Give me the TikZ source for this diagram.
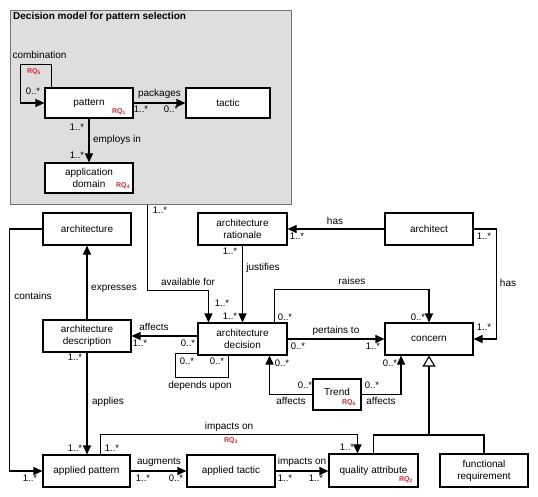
\documentclass[tikz,border=0pt]{standalone}
\usepackage{fontspec}
\setmainfont{Liberation Sans}
\usetikzlibrary{arrows.meta}
\definecolor{rqred}{RGB}{215,40,50}
\begin{document}
\begin{tikzpicture}[x=1pt,y=-1pt,
  box/.style={draw, line width=1.1pt, fill=white, inner sep=1pt, align=center,
    font=\fontsize{10}{12}\selectfont},
  conn/.style={line width=1.1pt},
  arr/.style={conn, -{Triangle[length=9pt,width=8pt]}},
  genarr/.style={conn, -{Triangle[open,fill=white,length=11pt,width=13pt]}},
  lbl/.style={font=\fontsize{10}{12}\selectfont, inner sep=0pt},
  mult/.style={font=\fontsize{9.5}{11}\selectfont, inner sep=0pt},
  rq/.style={font=\fontsize{7}{8}\selectfont\bfseries, text=rqred, inner sep=0pt},
]
\useasboundingbox (0,0) rectangle (538,496);

% decision model frame
\node[draw=black!55, fill=black!13, line width=1pt, minimum width=281pt, minimum height=194pt, inner sep=0pt] (dm) at (150.5,107) {};
\node[anchor=west, inner sep=0pt, font=\fontsize{10}{12}\selectfont\bfseries] (dmtitle) at (13,17) {Decision model for pattern selection};

% nodes
\node[box, minimum width=88pt, minimum height=30pt] (pattern) at (89,103) {pattern};
\node[box, minimum width=84pt, minimum height=30pt] (tactic) at (228,103) {tactic};
\node[box, minimum width=88pt, minimum height=30pt] (appdom) at (89,178) {application\\domain};
\node[box, minimum width=88pt, minimum height=32pt] (architecture) at (87,229) {architecture};
\node[box, minimum width=89pt, minimum height=32pt] (rationale) at (242.5,229) {architecture\\rationale};
\node[box, minimum width=88pt, minimum height=32pt] (architect) at (429,229) {architect};
\node[box, minimum width=88pt, minimum height=32pt] (description) at (87,336) {architecture\\description};
\node[box, minimum width=89pt, minimum height=32pt] (decision) at (242.5,339) {architecture\\decision};
\node[box, minimum width=88pt, minimum height=32pt] (concern) at (429,339) {concern};
\node[box, minimum width=48pt, minimum height=31pt] (trend) at (337,394.5) {};
\node[lbl] (trendtxt) at (337,392) {Trend};
\node[box, minimum width=87pt, minimum height=32pt] (ap) at (86.5,471) {applied pattern};
\node[box, minimum width=88pt, minimum height=32pt] (at) at (231,471) {applied tactic};
\node[box, minimum width=89pt, minimum height=33pt] (qa) at (373.5,470.5) {quality attribute};
\node[box, minimum width=88pt, minimum height=33pt] (fr) at (484,470.5) {functional\\requirement};

% RQ tags
\node[rq] (rq1) at (119,112) {RQ\textsubscript{1}};
\node[rq] (rq4) at (123,186) {RQ\textsubscript{4}};
\node[rq] (rq5) at (34,72) {RQ\textsubscript{5}};
\node[rq] (rq6) at (349,403) {RQ\textsubscript{6}};
\node[rq] (rq2) at (406,480) {RQ\textsubscript{2}};
\node[rq] (rq3) at (231,441) {RQ\textsubscript{3}};

% connectors
\draw[arr] ([xshift=7pt]pattern.north west) -- ++(0,-23) -- ++(-31,0) |- (pattern.west);
\draw[arr] (pattern) -- (tactic);
\draw[arr] (pattern) -- (appdom);
\draw[arr] ([xshift=138pt]dm.south west) -- ++(0,86) -| ([xshift=11pt]decision.north west);
\draw[arr] (rationale) -- (decision);
\draw[arr] (architect) -- (rationale);
\draw[arr] (architect.east) -- ++(23,0) |- (concern.east);
\draw[arr] ([xshift=-13pt]decision.north east) -- ++(0,-33) -| (concern.north);
\draw[arr] (decision.east) -- (concern.west);
\draw[arr] (decision.west |- description.east) -- (description.east);
\draw[conn] ([yshift=2pt]decision.south west) -- ++(-22,0) -- ++(0,24) -| ([xshift=31pt]decision.south west);
\draw[arr] (trend.west) -| ([xshift=-18pt]decision.south east);
\draw[arr] (trend.east) -| ([xshift=-28pt]concern.south);
\coordinate (gen) at (429,435);
\draw[conn] (qa.north) -- (qa.north |- gen) -- (fr.north |- gen) -- (fr.north);
\draw[genarr] (gen) -- (concern.south);
\draw[arr] (description) -- (architecture);
\draw[arr] (description.south) -- (description.south |- ap.north);
\draw[arr] (architecture.west) -- ++(-33,0) |- (ap.west);
\draw[arr] (ap) -- (at);
\draw[arr] (at.east) -- (at.east -| qa.west);
\draw[arr] ([xshift=58pt]ap.north west) -- ++(0,-20) -| ([xshift=29pt]qa.north west);

% labels
\node[lbl] (lcomb) at (39.5,55) {combination};
\node[mult] (m1) at (33,91) {0..*};
\node[lbl] (lpack) at (159.5,94) {packages};
\node[mult] (m2) at (141,109) {1..*};
\node[mult] (m3) at (171,109) {0..*};
\node[mult] (m4) at (77,127) {1..*};
\node[lbl] (lemp) at (117,140) {employs in};
\node[mult] (m5) at (77,155) {1..*};
\node[mult] (m6) at (160,210) {1..*};
\node[lbl] (lavail) at (188,282) {available for};
\node[mult] (m7) at (222,303) {1..*};
\node[mult] (m8) at (230,251) {1..*};
\node[lbl] (ljust) at (263,268) {justifies};
\node[mult] (m9) at (230,316) {1..*};
\node[lbl] (lhas1) at (335,221) {has};
\node[mult] (m10) at (297,236) {1..*};
\node[mult] (m11) at (484,236) {1..*};
\node[lbl] (lhas2) at (508,283) {has};
\node[mult] (m12) at (484,327) {1..*};
\node[lbl] (lraise) at (352,281) {raises};
\node[mult] (m13) at (285,317) {0..*};
\node[mult] (m14) at (418,317) {0..*};
\node[lbl] (lpert) at (336,331) {pertains to};
\node[mult] (m15) at (298,346) {0..*};
\node[mult] (m16) at (373,346) {1..*};
\node[lbl] (laff1) at (154,327) {affects};
\node[mult] (m17) at (140,343) {1..*};
\node[mult] (m18) at (188,343) {0..*};
\node[mult] (m19) at (187,361) {0..*};
\node[mult] (m20) at (217,361) {0..*};
\node[lbl] (ldep) at (200,386) {depends upon};
\node[mult] (m21) at (305,385) {0..*};
\node[lbl] (laff2) at (291,401) {affects};
\node[mult] (m22) at (282,363) {0..*};
\node[mult] (m23) at (372,385) {0..*};
\node[lbl] (laff3) at (381,401) {affects};
\node[mult] (m24) at (390,363) {0..*};
\node[mult] (m25) at (75,357) {1..*};
\node[lbl] (lapp) at (108,402) {applies};
\node[mult] (m26) at (75,448) {1..*};
\node[mult] (m27) at (112,448) {1..*};
\node[lbl] (lexp) at (114,289) {expresses};
\node[lbl] (lcont) at (33,296) {contains};
\node[mult] (m28) at (30,478) {1..*};
\node[lbl] (laug) at (159,462) {augments};
\node[mult] (m29) at (143,478) {1..*};
\node[mult] (m30) at (176,478) {0..*};
\node[lbl] (limp1) at (302,462) {impacts on};
\node[mult] (m31) at (285,478) {1..*};
\node[mult] (m32) at (316,478) {1..*};
\node[lbl] (limp2) at (229,427) {impacts on};
\node[mult] (m33) at (347,447) {1..*};
\end{tikzpicture}
\end{document}
